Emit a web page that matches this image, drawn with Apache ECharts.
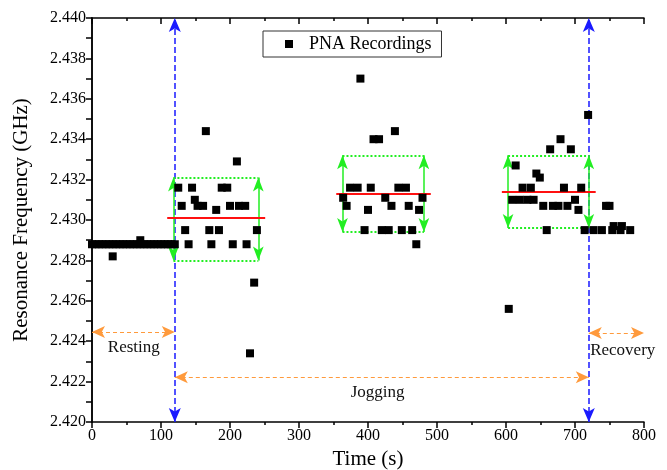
<!DOCTYPE html>
<html><head><meta charset="utf-8">
<script src="https://cdn.jsdelivr.net/npm/echarts@6/dist/echarts.min.js"></script>
<style>html,body{margin:0;padding:0;background:#fff}#c{width:667px;height:470px}</style>
</head><body><div id="c"></div>
<script>
// PNA recordings: time (s) and resonance frequency (GHz)
const pnaTime = [
  0,5,10,15,20,25,30,30,35,40,45,50,55,60,65,70,70,75,80,85,90,95,100,105,110,115,120,
  125,130,135,140,145,149,153,161,165,170,173,180,184,188,196,200,204,210,213,222,224,229,235,239,
  364,369,374,385,389,395,400,404,408,416,420,425,430,434,439,444,449,455,459,464,470,474,479,
  604,609,614,620,624,631,636,640,644,649,654,659,664,668,676,679,684,689,694,700,705,709,714,719,
  727,739,745,750,754,756,766,768,780
];
const pnaFreq = [
  2.4288,2.4288,2.4288,2.4288,2.4288,2.4288,2.4288,2.4282,2.4288,2.4288,2.4288,2.4288,2.4288,2.4288,2.4288,2.4288,2.4290,2.4288,2.4288,2.4288,2.4288,2.4288,2.4288,2.4288,2.4288,2.4288,2.4288,
  2.4316,2.4307,2.4295,2.4288,2.4316,2.4310,2.4307,2.4307,2.4344,2.4295,2.4288,2.4305,2.4295,2.4316,2.4316,2.4307,2.4288,2.4329,2.4307,2.4307,2.4288,2.4234,2.4269,2.4295,
  2.4311,2.4307,2.4316,2.4316,2.4370,2.4295,2.4305,2.4316,2.4340,2.4340,2.4295,2.4311,2.4295,2.4307,2.4344,2.4316,2.4295,2.4316,2.4307,2.4295,2.4288,2.4305,2.4311,
  2.4256,2.4310,2.4327,2.4310,2.4316,2.4310,2.4316,2.4310,2.4323,2.4321,2.4307,2.4295,2.4335,2.4307,2.4307,2.4340,2.4316,2.4307,2.4335,2.4310,2.4305,2.4316,2.4295,2.4352,
  2.4295,2.4295,2.4307,2.4307,2.4295,2.4297,2.4295,2.4297,2.4295
];
// phase boundaries (s)
const phaseBounds = [120, 720];
// mean lines: [tStart, tEnd, mean]
const meanLines = [[109, 251, 2.4301], [354, 491, 2.4313], [594, 730, 2.4314]];
// spread boxes: [tLeft, tRight, fLow, fHigh]
const spreadBoxes = [[118, 241, 2.4280, 2.4321], [363, 481, 2.4294, 2.4332], [603, 720, 2.4296, 2.4332]];
// phase arrows: [tStart, tEnd, f]
const phaseArrows = [[0, 120, 2.42445], [120, 720, 2.42222], [720, 800, 2.42440]];
// phase labels: [name, t, f, align]
const phaseLabels = [['Resting', 23, 2.42370, 'left'], ['Jogging', 414, 2.42148, 'center'], ['Recovery', 722, 2.42352, 'left']];
const xTicks = {min: 0, max: 800, step: 100};
const yTicks = {min: 2.420, max: 2.440, step: 0.002};

const FONT = '"Liberation Serif","Times New Roman",serif';
const chart = echarts.init(document.getElementById('c'), null, {renderer: 'canvas'});
const pts = pnaTime.map((t, i) => [t, pnaFreq[i]]);

const seg = (a, b) => [{coord: a}, {coord: b}];
const meanData = meanLines.map(m => seg([m[0], m[2]], [m[1], m[2]]));
const boxEdges = [];
const boxArrows = [];
spreadBoxes.forEach(b => {
  boxEdges.push(seg([b[0], b[3]], [b[1], b[3]]));
  boxEdges.push(seg([b[0], b[2]], [b[1], b[2]]));
  boxArrows.push(seg([b[0], b[2]], [b[0], b[3]]));
  boxArrows.push(seg([b[1], b[2]], [b[1], b[3]]));
});
const blueData = phaseBounds.map(t => seg([t, yTicks.min], [t, yTicks.max]));
const orangeData = phaseArrows.map(a => seg([a[0], a[2]], [a[1], a[2]]));

function markSeries(name, data, color, type, width, symbol, symSize) {
  return {
    name: name, type: 'scatter', data: [], silent: true,
    markLine: {
      silent: true, animation: false, symbol: symbol, symbolSize: symSize,
      label: {show: false}, emphasis: {disabled: true},
      lineStyle: {color: color, type: type, width: width, opacity: 1},
      data: data
    }
  };
}

const option = {
  animation: false,
  backgroundColor: '#fff',
  grid: {left: 92, right: 23, top: 18, bottom: 48, containLabel: false, outerBoundsMode: 'none'},
  legend: {
    data: ['PNA Recordings'], left: 263, top: 31,
    icon: 'rect', itemWidth: 8, itemHeight: 8,
    itemStyle: {opacity: 1},
    borderColor: '#333', borderWidth: 1, borderRadius: 0,
    padding: [4, 10, 4, 22],
    textStyle: {fontFamily: FONT, fontSize: 18, color: '#000', padding: [0, 0, 0, 11]}
  },
  xAxis: [{
    type: 'value', min: xTicks.min, max: xTicks.max, interval: xTicks.step,
    name: 'Time (s)', nameLocation: 'middle', nameGap: 27,
    nameTextStyle: {fontFamily: FONT, fontSize: 21, color: '#000'},
    axisLine: {show: true, lineStyle: {color: '#000', width: 1.5}},
    axisTick: {show: true, inside: false, length: 6, lineStyle: {color: '#000', width: 1.5}},
    minorTick: {show: true, splitNumber: 2, length: 3, lineStyle: {color: '#000', width: 1.5}},
    axisLabel: {fontFamily: FONT, fontSize: 16, color: '#000', margin: 6},
    splitLine: {show: false}
  }, {
    type: 'value', position: 'top', min: xTicks.min, max: xTicks.max, interval: xTicks.step,
    axisLine: {show: true, lineStyle: {color: '#000', width: 1.5}},
    axisTick: {show: true, inside: true, length: 6, lineStyle: {color: '#000', width: 1.5}},
    minorTick: {show: true, splitNumber: 2, length: 3, lineStyle: {color: '#000', width: 1.5}},
    axisLabel: {show: false}, splitLine: {show: false}
  }],
  yAxis: [{
    type: 'value', min: yTicks.min, max: yTicks.max, interval: yTicks.step,
    name: 'Resonance Frequency (GHz)', nameLocation: 'middle', nameGap: 60,
    nameTextStyle: {fontFamily: FONT, fontSize: 21, color: '#000'},
    axisLine: {show: true, lineStyle: {color: '#000', width: 1.5}},
    axisTick: {show: true, inside: false, length: 6, lineStyle: {color: '#000', width: 1.5}},
    minorTick: {show: true, splitNumber: 2, length: 3, lineStyle: {color: '#000', width: 1.5}},
    axisLabel: {fontFamily: FONT, fontSize: 16, color: '#000', margin: 6, formatter: v => v.toFixed(3)},
    splitLine: {show: false}
  }, {
    type: 'value', position: 'right', min: yTicks.min, max: yTicks.max, interval: yTicks.step,
    axisLine: {show: true, lineStyle: {color: '#000', width: 1.5}},
    axisTick: {show: true, inside: true, length: 6, lineStyle: {color: '#000', width: 1.5}},
    minorTick: {show: true, splitNumber: 2, length: 6, lineStyle: {color: '#000', width: 1.5}},
    axisLabel: {show: false}, splitLine: {show: false}
  }],
  series: [
    markSeries('blue', blueData, '#1a1aff', 'dashed', 1.5, ['arrow', 'arrow'], [9, 14]),
    markSeries('orange', orangeData, '#ff9a3c', [4, 3], 1, ['arrow', 'arrow'], [9, 13]),
    markSeries('boxes', boxEdges, '#22ee22', [2, 2], 2, ['none', 'none'], 0),
    markSeries('boxArrows', boxArrows, '#22ee22', 'solid', 1.5, ['arrow', 'arrow'], [8, 14]),
    markSeries('means', meanData, '#ff1010', 'solid', 2, ['none', 'none'], 0),
    {
      name: 'PNA Recordings', type: 'scatter', symbol: 'rect', symbolSize: 8,
      itemStyle: {color: '#000', opacity: 1}, data: pts, z: 5
    },
    {
      name: 'labels', type: 'scatter', symbolSize: 0, silent: true,
      itemStyle: {opacity: 1},
      data: phaseLabels.map(l => ({name: l[0], value: [l[1], l[2]],
        label: {show: true, position: 'inside', formatter: '{b}', align: l[3], verticalAlign: 'middle',
          fontFamily: FONT, fontSize: 17, color: '#111'}}))
    }
  ]
};
chart.setOption(option);
</script></body></html>
